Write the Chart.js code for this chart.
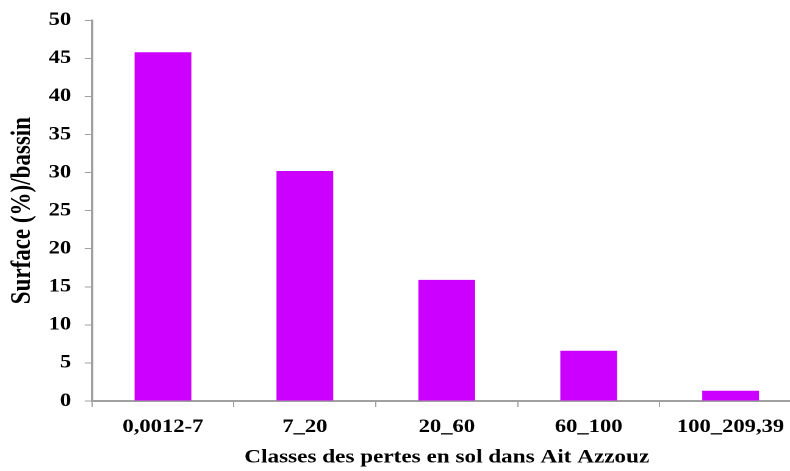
<!DOCTYPE html>
<html>
<head>
<meta charset="utf-8">
<script src="https://cdn.jsdelivr.net/npm/chart.js@4/dist/chart.umd.min.js"></script>
<style>
  html, body { margin: 0; padding: 0; background: #fff; overflow: hidden; }
  #wrap { width: 790px; height: 471px; overflow: hidden; }
  /* the original figure is stretched horizontally */
  #chart { transform: scaleX(1.22); transform-origin: 0 0; }
</style>
</head>
<body>
<div id="wrap"><canvas id="chart" style="width:660px;height:471px"></canvas></div>
<script>
const categories = ['0,0012-7', '7_20', '20_60', '60_100', '100_209,39'];
const surface = [45.8, 30.2, 15.9, 6.6, 1.35];
const yTicks = [0, 5, 10, 15, 20, 25, 30, 35, 40, 45, 50];

const font = 'Liberation Serif, Times New Roman, serif';
const axisGray = '#a0a0a0';

const ctx = document.getElementById('chart').getContext('2d');
new Chart(ctx, {
    type: 'bar',
    data: {
        labels: categories,
        datasets: [{
            data: surface,
            backgroundColor: '#cc00ff',
            borderWidth: 0,
            barPercentage: 0.4,
            categoryPercentage: 1
        }]
    },
    options: {
        responsive: false,
        animation: false,
        devicePixelRatio: 2,
        layout: { padding: { top: 8, right: 3, left: 0, bottom: 0 } },
        plugins: { legend: { display: false }, tooltip: { enabled: false } },
        scales: {
            x: {
                grid: { display: true, drawOnChartArea: false, color: axisGray, tickLength: 6, offset: true },
                border: { color: axisGray, width: 2 },
                ticks: { color: '#000', font: { family: font, size: 18.5, weight: 'bold', lineHeight: 1.2 }, padding: 9, maxRotation: 0 },
                title: {
                    display: true,
                    text: 'Classes des pertes en sol dans Ait Azzouz',
                    color: '#000',
                    font: { family: font, size: 19, weight: 'bold' },
                    padding: { top: 4, bottom: 2 }
                },
                afterFit: s => { s.height = 70; }
            },
            y: {
                min: 0, max: 50,
                afterBuildTicks: s => { s.ticks = yTicks.map(v => ({ value: v })); },
                grid: { display: true, drawOnChartArea: false, color: axisGray, tickLength: 6 },
                border: { color: axisGray, width: 2 },
                ticks: { color: '#000', font: { family: font, size: 18.5, weight: 'bold', lineHeight: 1 }, padding: 11 },
                title: {
                    display: true,
                    text: 'Surface (%)/bassin',
                    color: '#000',
                    font: { family: font, size: 23, weight: 'bold' },
                    padding: { top: 5, bottom: 4 }
                },
                afterFit: s => { s.width = 75.4; }
            }
        }
    }
});
</script>
</body>
</html>
